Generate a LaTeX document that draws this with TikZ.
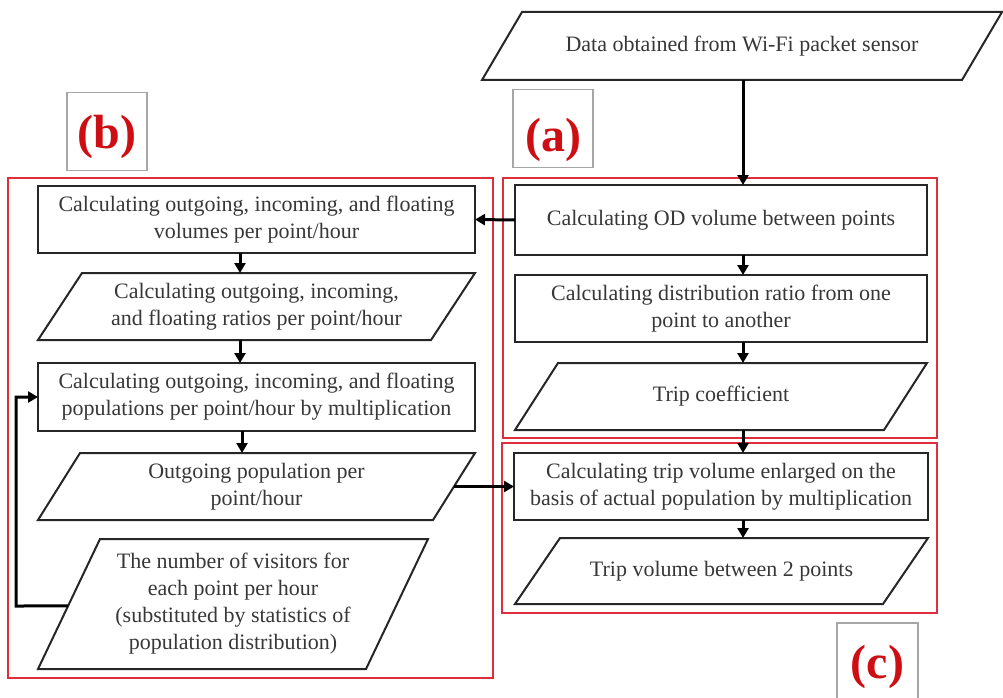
\documentclass[tikz,border=0pt]{standalone}
\usepackage{fontspec}
\setmainfont{Liberation Serif}
\usetikzlibrary{calc,arrows.meta}
\definecolor{frameRed}{RGB}{222,45,60}
\definecolor{txtgray}{RGB}{55,55,55}
\definecolor{lblred}{RGB}{205,15,20}
\tikzset{
  every node/.style={outer sep=0pt, inner sep=0pt},
  txtbox/.style={rectangle, align=center, text=txtgray, font=\fontsize{22}{27}\selectfont},
  procbox/.style={txtbox, draw=black!85, line width=2pt},
  shapeline/.style={draw=black!85, line width=2pt, line join=miter},
  flow/.style={line width=3pt, -{Triangle[length=10pt,width=11pt]}},
  region/.style={draw=frameRed, line width=1.5pt},
  tagbox/.style={draw=black!35, line width=1.2pt, minimum width=80pt, minimum height=78pt},
  tagtext/.style={text=lblred, font=\fontsize{48}{48}\selectfont\bfseries},
}
\newcommand\slantshape[2]{\draw[shapeline] (#1.south west) -- ([xshift=#2]#1.north west) -- (#1.north east) -- ([xshift=-#2]#1.south east) -- cycle;}
\begin{document}
\begin{tikzpicture}[x=1pt,y=-1pt]
\useasboundingbox (0,0) rectangle (1003,698);
% region frames
\draw[region] (8,178) rectangle (493,678);
\draw[region] (503,178) rectangle (937,438);
\draw[region] (502,443) rectangle (937,613);
% tags
\node[tagbox] (tagB) at (107,131.5) {};
\node[tagtext] (tagBtext) at (107,137) {(b)};
\node[tagbox] (tagA) at (553,128.5) {};
\node[tagtext] (tagAtext) at (553,140) {(a)};
\draw[draw=black!35, line width=1.2pt] (837,705) -- (837,623) -- (918,623) -- (918,705);
\node[minimum width=81pt, minimum height=82pt] (tagC) at (877.5,664) {};
\node[tagtext] (tagCtext) at (877.5,667) {(c)};
% top input
\node[txtbox, minimum width=520pt, minimum height=68pt] (top) at (742,46) {Data obtained from Wi-Fi packet sensor};
\slantshape{top}{40pt}
% column (a)
\node[procbox, minimum width=412pt, minimum height=70pt] (a1) at (721,220) {Calculating OD volume between points};
\node[procbox, minimum width=412pt, minimum height=67pt] (a2) at (721,308.5) {Calculating distribution ratio from one\\point to another};
\node[txtbox, minimum width=412pt, minimum height=67pt] (a3) at (721,396.5) {Trip coefficient};
\slantshape{a3}{43pt}
% column (c)
\node[procbox, minimum width=414pt, minimum height=67pt] (c1) at (721,486.5) {Calculating trip volume enlarged on the\\basis of actual population by multiplication};
\node[txtbox, minimum width=413pt, minimum height=66pt] (c2) at (721.5,571) {Trip volume between 2 points};
\slantshape{c2}{45pt}
% column (b)
\node[procbox, minimum width=437pt, minimum height=67pt] (b1) at (256.5,219.5) {Calculating outgoing, incoming, and floating\\volumes per point/hour};
\node[txtbox, minimum width=437pt, minimum height=67pt] (b2) at (256.5,306.5) {Calculating outgoing, incoming,\\and floating ratios per point/hour};
\slantshape{b2}{44pt}
\node[procbox, minimum width=437pt, minimum height=68pt] (b3) at (256.5,397) {Calculating outgoing, incoming, and floating\\populations per point/hour by multiplication};
\node[txtbox, minimum width=437pt, minimum height=67pt] (b4) at (256.5,486.5) {Outgoing population per\\point/hour};
\slantshape{b4}{42pt}
\node[txtbox, minimum width=390pt, minimum height=130pt] (b5) at (233,604) {The number of visitors for\\each point per hour\\(substituted by statistics of\\population distribution)};
\slantshape{b5}{62pt}
% connectors
\coordinate (xr) at (743,0);
\coordinate (xl) at (240,0);
\draw[flow] (top.south -| xr) -- (a1.north -| xr);
\draw[flow] (a1.south -| xr) -- (a2.north -| xr);
\draw[flow] (a2.south -| xr) -- (a3.north -| xr);
\draw[flow] (a3.south -| xr) -- (c1.north -| xr);
\draw[flow] (c1.south -| xr) -- (c2.north -| xr);
\draw[flow] (a1.west) -- (b1.east);
\draw[flow] (b1.south -| xl) -- (b2.north -| xl);
\draw[flow] (b2.south -| xl) -- (b3.north -| xl);
\draw[flow] ([xshift=2pt]b3.south -| xl) -- ([xshift=2pt]b4.north -| xl);
\coordinate (b4r) at ($(b4.north east)!0.5!([xshift=-42pt]b4.south east)$);
\draw[flow] (b4r) -- (c1.west);
\coordinate (b5l) at ($(b5.south west)!0.485!([xshift=62pt]b5.north west)$);
\draw[flow] (b5l) -- (16,606) -- (16,397) -- (b3.west);
\end{tikzpicture}
\end{document}
